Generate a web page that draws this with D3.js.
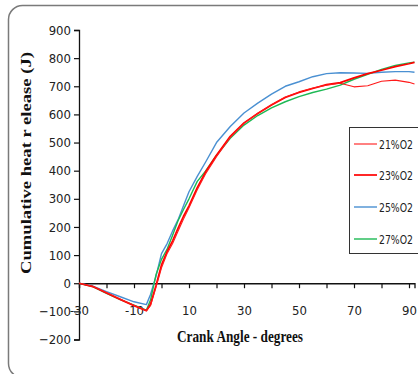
<!DOCTYPE html>
<html>
<head>
<meta charset="utf-8">
<script src="https://cdn.jsdelivr.net/npm/d3@7"></script>
<style>
  html, body { margin: 0; padding: 0; background: #fff; }
  svg { display: block; }
  .tick-label { font-family: 'Liberation Sans Narrow', 'DejaVu Sans Condensed', sans-serif; font-size: 13px; fill: #222; }
  .axis-title { font-family: 'Liberation Serif', 'DejaVu Serif', serif; font-weight: bold; fill: #111; }
</style>
</head>
<body>
<div id="chart"></div>
<script>
// crank angle (degrees) shared by all series
const angles = [-30, -25, -20, -15, -10, -5.5, -4, -2, 0, 2, 4, 6, 8, 10, 13, 16, 20, 25, 30, 35, 40, 45, 50, 55, 60, 65, 70, 75, 80, 85, 90, 92]

// cumulative heat release (J)
const o2_21 = [0, -11, -33, -56, -78, -97, -80, -15, 55, 105, 140, 185, 228, 268, 332, 388, 450, 518, 568, 604, 635, 662, 680, 694, 704, 711, 698, 702, 718, 722, 714, 708]
const o2_23 = [0, -12, -35, -58, -80, -98, -75, -8, 65, 112, 150, 195, 238, 275, 340, 395, 455, 522, 570, 603, 633, 660, 678, 692, 706, 713, 730, 745, 757, 770, 780, 785]
const o2_25 = [0, -10, -30, -48, -66, -76, -40, 25, 105, 140, 185, 225, 275, 325, 380, 430, 500, 557, 605, 640, 672, 700, 716, 734, 745, 748, 747, 746, 750, 752, 752, 750]
const o2_27 = [0, -12, -36, -58, -78, -96, -60, 30, 85, 120, 170, 222, 262, 300, 362, 398, 455, 515, 562, 596, 623, 645, 663, 678, 690, 704, 725, 742, 760, 774, 783, 786]

const seriesNames = ['21%O2', '23%O2', '25%O2', '27%O2']
const seriesValues = [o2_21, o2_23, o2_25, o2_27]

// axis ticks
const xTicks = d3.range(-30, 91, 10)
const xLabels = [-30, -10, 10, 30, 50, 70, 90]
const yTicks = d3.range(-200, 901, 100)

// outer svg dimensions
const width = 418
const height = 374

// colours and widths per series
const colors = ['#ff1a1a', '#ff0000', '#4a90d2', '#1db954']
const strokeWidths = [1.1, 1.7, 1.4, 1.4]

// scales
const xScale = d3.scaleLinear().domain([-30, 92]).range([79, 414.5])
const yScale = d3.scaleLinear().domain([-200, 900]).range([339.5, 30])

const svg = d3.select('#chart').append('svg').attr('width', width).attr('height', height)

// rounded frame round the chart
svg.append('rect')
  .attr('x', 8.5).attr('y', 5.5)
  .attr('width', 440).attr('height', 372)
  .attr('rx', 14)
  .attr('fill', 'none')
  .attr('stroke', '#7a7a7a')
  .attr('stroke-width', 1.5)

// y axis
const yAxis = d3.axisLeft(yScale).tickValues(yTicks).tickSize(5).tickFormat(d3.format('d'))
const gy = svg.append('g').attr('transform', `translate(${xScale(-30)},0)`).call(yAxis)
gy.select('.domain').attr('stroke', '#111').attr('stroke-width', 1.3)
gy.selectAll('.tick line').attr('stroke', '#111').attr('stroke-width', 1.2)
gy.selectAll('.tick text').attr('class', 'tick-label').attr('x', -8)

// x axis sits on zero
const xAxis = d3.axisBottom(xScale).tickValues(xTicks).tickSize(5)
  .tickFormat(d => xLabels.includes(d) ? d : '')
const gx = svg.append('g').attr('transform', `translate(0,${yScale(0)})`).call(xAxis)
gx.select('.domain').attr('stroke', '#111').attr('stroke-width', 1.3)
gx.selectAll('.tick line').attr('stroke', '#111').attr('stroke-width', 1.2)
gx.selectAll('.tick text').attr('class', 'tick-label').attr('y', 23)

// the curves
const line = d3.line()
  .x((d, i) => xScale(angles[i]))
  .y(d => yScale(d))

const drawOrder = [2, 3, 1, 0]
svg.append('g').selectAll('path')
  .data(drawOrder)
  .join('path')
  .attr('d', k => line(seriesValues[k]))
  .attr('fill', 'none')
  .attr('stroke', k => colors[k])
  .attr('stroke-width', k => strokeWidths[k])
  .attr('stroke-linejoin', 'round')

// axis titles
svg.append('text')
  .attr('class', 'axis-title')
  .attr('x', 240).attr('y', 342)
  .attr('text-anchor', 'middle')
  .attr('font-size', 16)
  .attr('textLength', 126).attr('lengthAdjust', 'spacingAndGlyphs')
  .text('Crank Angle - degrees')

svg.append('text')
  .attr('class', 'axis-title')
  .attr('transform', 'translate(31,163) rotate(-90)')
  .attr('text-anchor', 'middle')
  .attr('font-size', 15)
  .attr('textLength', 222).attr('lengthAdjust', 'spacingAndGlyphs')
  .text('Cumulative heat r elease (J)')

// legend box
const legend = svg.append('g')
legend.append('rect')
  .attr('x', 349.5).attr('y', 127.5)
  .attr('width', 90).attr('height', 126)
  .attr('fill', '#fff')
  .attr('stroke', '#333')
  .attr('stroke-width', 1)

const legendY = [144, 175, 207, 239]
seriesNames.forEach((name, i) => {
  legend.append('line')
    .attr('x1', 354).attr('x2', 377)
    .attr('y1', legendY[i]).attr('y2', legendY[i])
    .attr('stroke', colors[i])
    .attr('stroke-width', strokeWidths[i])
  legend.append('text')
    .attr('class', 'tick-label')
    .attr('x', 379).attr('y', legendY[i] + 4.5)
    .attr('font-size', 12)
    .attr('textLength', 34).attr('lengthAdjust', 'spacingAndGlyphs')
    .text(name)
})
</script>
</body>
</html>
